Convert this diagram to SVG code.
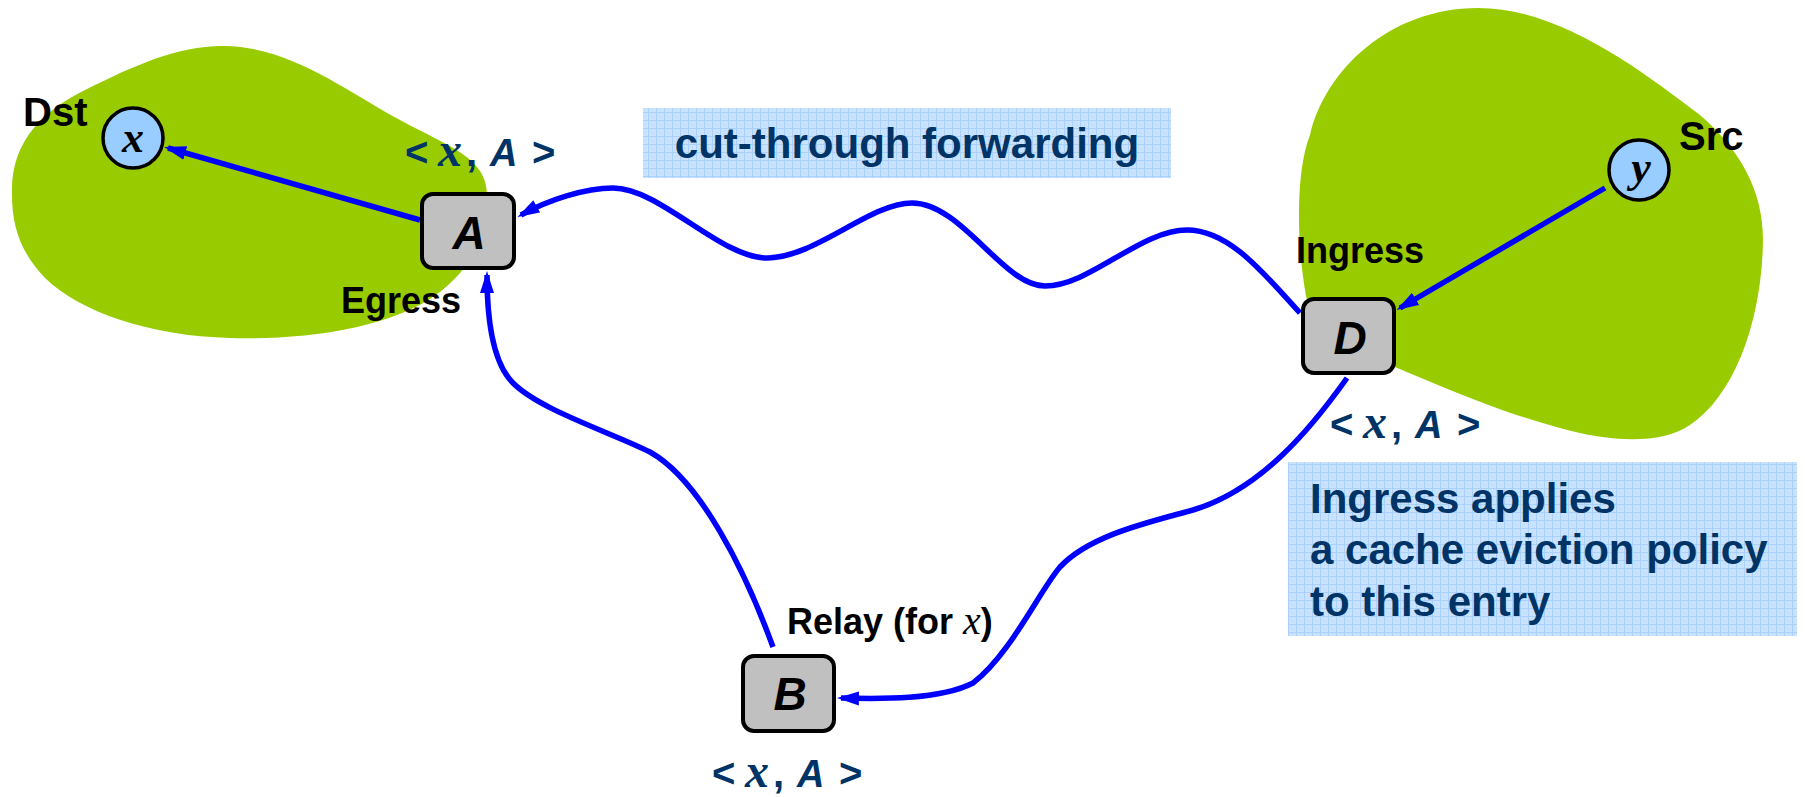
<svg xmlns="http://www.w3.org/2000/svg" width="1805" height="797" viewBox="0 0 1805 797">
  <style>
    .blob { fill: #99cc00; }
    .box { fill: #c0c0c0; stroke: #000; stroke-width: 4; }
    .host { fill: #99ccff; stroke: #000; stroke-width: 3.5; }
    .wire { fill: none; stroke: #0000ff; stroke-width: 5.5; marker-end: url(#arrow); }
    .tag { font-family: "Liberation Sans", Arial, sans-serif; font-weight: bold; font-size: 36px; fill: #000; }
    .big { font-size: 40px; }
    .nodeid { font-family: "Liberation Sans", Arial, sans-serif; font-weight: bold; font-style: italic; font-size: 46px; fill: #000; text-anchor: middle; }
    .hostid { font-family: "Liberation Serif", "Times New Roman", serif; font-weight: bold; font-style: italic; font-size: 44px; fill: #000; text-anchor: middle; }
    .tuple { font-family: "Liberation Sans", Arial, sans-serif; font-weight: bold; font-size: 40px; fill: #003366; }
    .tuple .v { font-family: "Liberation Serif", "Times New Roman", serif; font-weight: bold; font-style: italic; font-size: 48px; }
    .tuple .c { font-style: italic; font-size: 38px; }
    .note { fill: url(#grid); }
    .notetext { font-family: "Liberation Sans", Arial, sans-serif; font-weight: bold; font-size: 42px; fill: #003366; }
    .ivar { font-family: "Liberation Serif", "Times New Roman", serif; font-weight: normal; font-style: italic; font-size: 40px; }
  </style>
  <defs>
    <marker id="arrow" markerUnits="userSpaceOnUse" markerWidth="22" markerHeight="16" refX="18" refY="8" orient="auto">
      <path d="M0,1 L22,8 L0,15 Z" fill="#0000ff"/>
    </marker>
    <pattern id="grid" patternUnits="userSpaceOnUse" width="8" height="8">
      <rect width="8" height="8" fill="#c8e2ff"/>
      <path d="M0,0.5 H8 M0.5,0 V8" stroke="#a9d1fb" stroke-width="1"/>
      <rect x="4" y="4" width="1" height="1" fill="#b4d8ff"/>
    </pattern>
  </defs>

  <rect width="1805" height="797" fill="#ffffff"/>

  <!-- domains -->
  <g id="domain-dst">
    <path class="blob" d="M 12,195 C 10,140 45,110 85,90 C 135,65 180,45 225,46 C 290,47 345,90 400,120 C 450,147 487,158 487,195 C 487,240 470,268 440,292 C 390,330 300,340 230,338 C 150,336 80,312 45,278 C 20,252 12,225 12,195 Z"/>
  </g>
  <g id="domain-src">
    <path class="blob" d="M 1478,8 C 1560,8 1640,70 1700,115 C 1740,150 1763,190 1763,240 C 1762,320 1735,395 1690,425 C 1660,445 1610,442 1560,428 C 1500,412 1450,390 1395,367 L 1330,372 L 1306,296 C 1296,240 1296,170 1310,135 C 1325,70 1390,8 1478,8 Z"/>
  </g>

  <!-- annotation boxes -->
  <g id="note-cut-through">
    <rect class="note" x="643" y="108" width="528" height="70"/>
    <text class="notetext" x="907" y="158" text-anchor="middle">cut-through forwarding</text>
  </g>
  <g id="note-eviction">
    <rect class="note" x="1288" y="462" width="509" height="174"/>
    <text class="notetext" x="1310" y="513">Ingress applies</text>
    <text class="notetext" x="1310" y="564">a cache eviction policy</text>
    <text class="notetext" x="1310" y="616">to this entry</text>
  </g>

  <!-- connectors -->
  <g id="connectors">
    <path class="wire" d="M 420,220 L 168,148"/>
    <path class="wire" d="M 1605,188 L 1400,308"/>
    <path class="wire" d="M 1300,313 C 1265,275 1230,230 1187,230 C 1140,230 1090,286 1045,286 C 1003,286 962,203 912,203 C 870,203 815,258 767,258 C 720,258 660,188 613,188 C 585,188 548,200 521,215"/>
    <path class="wire" d="M 1347,378 C 1310,430 1260,490 1193,510 C 1150,522 1090,535 1060,567 C 1040,590 1010,655 973,683 C 940,700 880,699 841,698"/>
    <path class="wire" d="M 773,647 C 745,570 700,480 650,452 C 610,432 540,410 513,383 C 495,365 487,330 487,275"/>
  </g>

  <!-- hosts -->
  <g id="host-x">
    <circle class="host" cx="133" cy="138" r="30"/>
    <text class="hostid" x="133" y="152">x</text>
    <text class="tag big" x="23" y="126">Dst</text>
  </g>
  <g id="host-y">
    <circle class="host" cx="1639" cy="170" r="30"/>
    <text class="hostid" x="1641" y="182">y</text>
    <text class="tag big" x="1679" y="150">Src</text>
  </g>

  <!-- switches -->
  <g id="node-A">
    <rect class="box" x="422" y="194" width="92" height="74" rx="11"/>
    <text class="nodeid" x="469" y="249">A</text>
    <text class="tag" x="341" y="313">Egress</text>
    <text class="tuple" y="166"><tspan x="405">&lt;</tspan><tspan class="v" x="438">x</tspan><tspan x="466">,</tspan><tspan class="c" x="490">A</tspan><tspan x="532">&gt;</tspan></text>
  </g>
  <g id="node-D">
    <rect class="box" x="1303" y="299" width="91" height="74" rx="11"/>
    <text class="nodeid" x="1350" y="354">D</text>
    <text class="tag" x="1296" y="263">Ingress</text>
    <text class="tuple" y="438"><tspan x="1330">&lt;</tspan><tspan class="v" x="1363">x</tspan><tspan x="1391">,</tspan><tspan class="c" x="1415">A</tspan><tspan x="1457">&gt;</tspan></text>
  </g>
  <g id="node-B">
    <rect class="box" x="743" y="656" width="91" height="75" rx="11"/>
    <text class="nodeid" x="790" y="710">B</text>
    <text class="tag" x="787" y="634">Relay (for <tspan class="ivar">x</tspan>)</text>
    <text class="tuple" y="787"><tspan x="712">&lt;</tspan><tspan class="v" x="745">x</tspan><tspan x="773">,</tspan><tspan class="c" x="797">A</tspan><tspan x="839">&gt;</tspan></text>
  </g>
</svg>
